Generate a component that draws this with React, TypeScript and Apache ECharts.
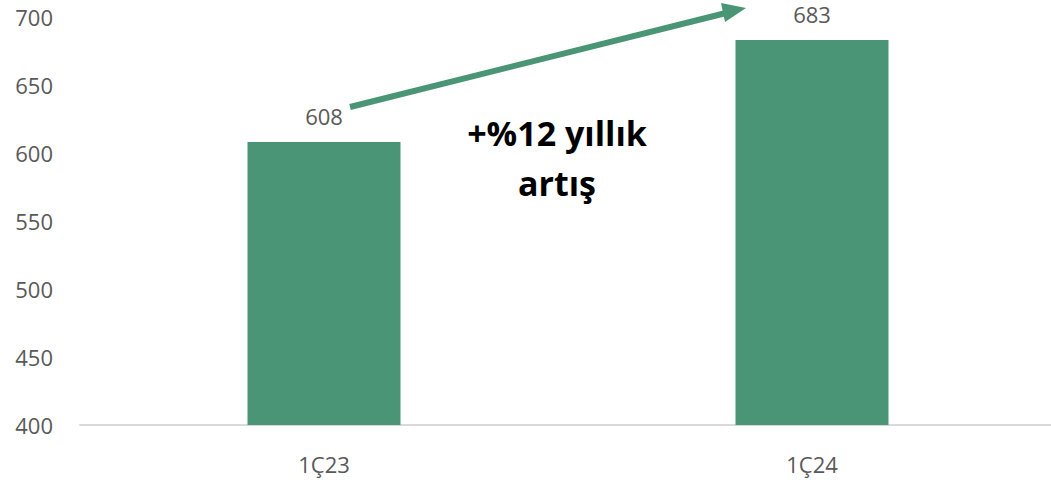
import React, { useEffect, useRef } from "react";
import * as echarts from "echarts";

const categories = ["1Ç23", "1Ç24"];
const values = [608, 683];
const yTicks = { min: 400, max: 700, interval: 50 };
const annotation = ["+%12 yıllık", "artış"];

export default function App() {
  const ref = useRef<HTMLDivElement>(null);
  useEffect(() => {
    document.body.style.margin = "0";
    document.body.style.overflow = "hidden";
    const chart = echarts.init(ref.current!, undefined, { renderer: "svg" });
    const green = "#4A9575";
    const grey = "#595959";
    chart.setOption({
      animation: false,
      grid: { left: 80, right: 0, top: 17, bottom: 57, containLabel: false },
      xAxis: {
        type: "category",
        data: categories,
        axisLine: { show: true, lineStyle: { color: "#d9d9d9", width: 2 } },
        axisTick: { show: false },
        axisLabel: { color: grey, fontSize: 22, fontFamily: "Open Sans", margin: 28 },
      },
      yAxis: {
        type: "value",
        min: yTicks.min,
        max: yTicks.max,
        interval: yTicks.interval,
        splitLine: { show: false },
        axisLine: { show: false },
        axisTick: { show: false },
        axisLabel: { color: grey, fontSize: 22, fontFamily: "Open Sans", margin: 27 },
      },
      series: [
        {
          type: "bar",
          data: values,
          barWidth: 153,
          itemStyle: { color: green },
          label: {
            show: true,
            position: "top",
            distance: 15,
            color: grey,
            fontSize: 22,
            fontFamily: "Open Sans",
          },
        },
      ],
      graphic: [
        {
          type: "line",
          shape: { x1: 350, y1: 107, x2: 730, y2: 12 },
          style: { stroke: green, lineWidth: 6 },
        },
        {
          type: "polygon",
          shape: { points: [[746, 8], [725, 22], [721, 3]] },
          style: { fill: green },
        },
        {
          type: "text",
          x: 557,
          y: 133,
          style: {
            text: annotation[0],
            fontSize: 34,
            fontWeight: "bold",
            fontFamily: "Open Sans",
            fill: "#000",
            align: "center",
            verticalAlign: "middle",
          },
        },
        {
          type: "text",
          x: 557,
          y: 183,
          style: {
            text: annotation[1],
            fontSize: 34,
            fontWeight: "bold",
            fontFamily: "Open Sans",
            fill: "#000",
            align: "center",
            verticalAlign: "middle",
          },
        },
      ],
    });
    return () => chart.dispose();
  }, []);
  return <div ref={ref} style={{ width: 1056, height: 482 }} />;
}
